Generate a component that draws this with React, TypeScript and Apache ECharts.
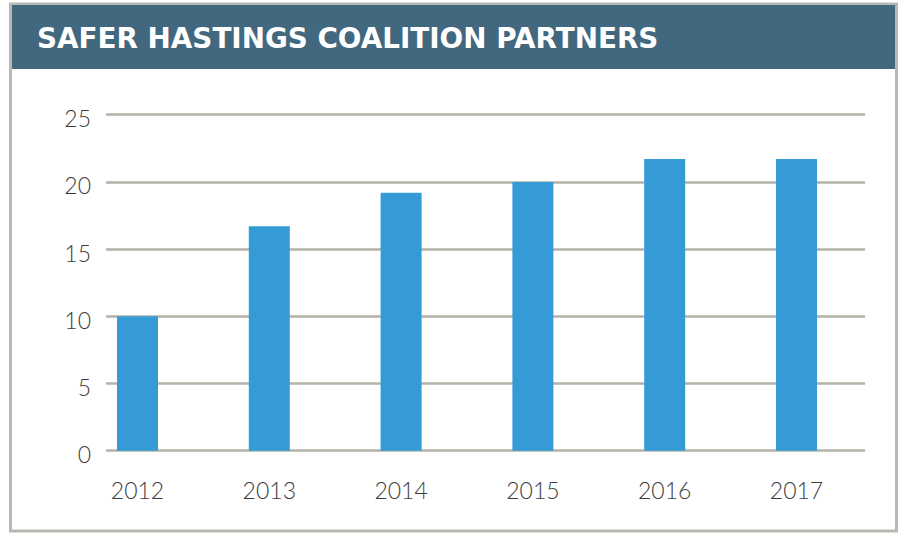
import React, { useEffect, useRef } from "react";
import * as echarts from "echarts";

const title = "SAFER HASTINGS COALITION PARTNERS";
const years = ["2012", "2013", "2014", "2015", "2016", "2017"];
const partners = [10, 16.7, 19.2, 20, 21.7, 21.7];
const yMin = 0;
const yMax = 25;
const yStep = 5;

export default function App() {
  const ref = useRef<HTMLDivElement>(null);
  useEffect(() => {
    if (!ref.current) return;
    const chart = echarts.init(ref.current, null, { renderer: "svg" });
    const font = "Lato, 'Open Sans', sans-serif";
    chart.setOption({
      animation: false,
      backgroundColor: "#ffffff",
      graphic: [
        {
          type: "rect",
          z: -10,
          shape: { x: 10.5, y: 4, width: 886, height: 527 },
          style: { fill: "#ffffff", stroke: "#b9b9b1", lineWidth: 3 },
        },
        {
          type: "rect",
          z: -9,
          shape: { x: 12, y: 5, width: 883, height: 64 },
          style: { fill: "#41687f" },
        },
        {
          type: "text",
          z: 10,
          x: 37,
          y: 38,
          style: {
            text: title,
            fill: "#ffffff",
            font: "bold 27.8px 'DejaVu Sans', sans-serif",
            verticalAlign: "middle",
            align: "left",
          },
        },
      ],
      grid: [
        { left: 71.6, right: 35.6, top: 114.7, bottom: 83.3 },
        { left: 106, right: 33, top: 114.7, bottom: 83.3 },
      ],
      xAxis: [
        {
          type: "category",
          gridIndex: 0,
          data: years,
          axisLine: { show: false },
          axisTick: { show: false },
          axisLabel: {
            color: "#3d3d3d",
            fontFamily: font,
            fontWeight: 300,
            fontSize: 23,
            margin: 28,
          },
        },
        {
          type: "value",
          gridIndex: 1,
          min: 0,
          max: 1,
          show: false,
          splitLine: { show: false },
        },
      ],
      yAxis: [
        {
          type: "value",
          gridIndex: 0,
          min: yMin,
          max: yMax,
          interval: yStep,
          show: false,
          splitLine: { show: false },
        },
        {
          type: "value",
          gridIndex: 1,
          min: yMin,
          max: yMax,
          interval: yStep,
          axisLine: { show: false },
          axisTick: { show: false },
          axisLabel: {
            color: "#3d3d3d",
            fontFamily: font,
            fontWeight: 300,
            fontSize: 23,
            margin: 15,
            verticalAlign: "top",
            lineHeight: 23,
            padding: [-8, 0, 0, 0],
          },
          splitLine: { lineStyle: { color: "#b3b3aa", width: 2.5 } },
        },
      ],
      series: [
        {
          type: "bar",
          xAxisIndex: 0,
          yAxisIndex: 0,
          data: partners,
          barWidth: 41,
          itemStyle: { color: "#359bd6" },
          z: 5,
        },
      ],
    });
    return () => chart.dispose();
  }, []);
  return (
    <div
      ref={ref}
      style={{ position: "fixed", left: 0, top: 0, width: 898, height: 534 }}
    />
  );
}
